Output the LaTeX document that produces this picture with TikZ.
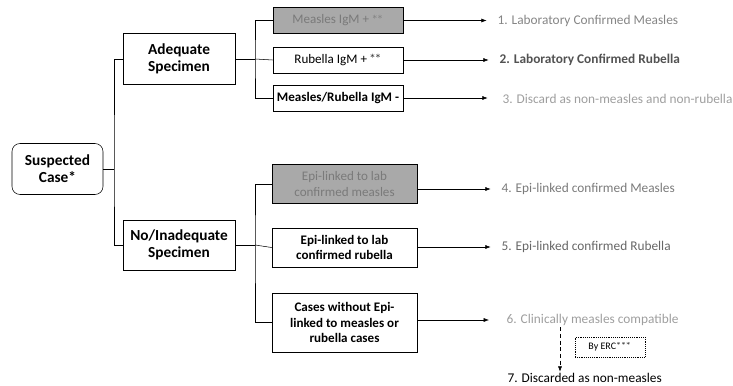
\documentclass[tikz,border=0pt]{standalone}
\usepackage{fontspec}
\setmainfont{Carlito}
\usetikzlibrary{arrows.meta}

\definecolor{shade}{HTML}{A9A9A9}
\definecolor{shadetext}{HTML}{7A7A7A}

\tikzset{
  mainbox/.style = {draw, thin, align=center, font=\fontsize{11.5}{12.5}\selectfont\bfseries,
    minimum width=112*0.75pt, minimum height=51*0.75pt, inner sep=1pt},
  subbox/.style = {draw, thin, align=center, font=\fontsize{9.8}{11.6}\selectfont,
    minimum width=130*0.75pt, minimum height=26*0.75pt, inner sep=1pt},
  greybox/.style = {fill=shade, text=shadetext},
  outcome/.style = {anchor=west, font=\fontsize{10}{12}\selectfont, inner sep=1pt},
  arr/.style = {-{Latex[length=4pt,width=3pt]}, thin, shorten >=7pt}
}

\begin{document}
\begin{tikzpicture}[x=0.75pt, y=-0.75pt]
    \useasboundingbox (0, 0) rectangle (733, 386);

    % first level
    \node [mainbox, rounded corners=6pt, minimum width=91*0.75pt] (susp) at (57.5, 169) {Suspected\\Case*};
    \node [mainbox] (adeq) at (179, 59) {Adequate\\Specimen};
    \node [mainbox, minimum height=50*0.75pt] (inad) at (179, 245) {No/Inadequate\\Specimen};

    \draw (susp.east) -- (114, 169);
    \draw (adeq.west) -| (114, 169) |- (inad.west);

    % adequate specimen
    \node [subbox, greybox] (mpos) at (338, 20.5) {Measles IgM + $^{**}$};
    \node [subbox] (rpos) at (338, 60) {Rubella IgM + $^{**}$};
    \node [subbox, font=\fontsize{9.8}{11.6}\selectfont\bfseries] (mneg) at (338, 98) {Measles/Rubella IgM -};

    \draw (adeq.east) -- (255, 59);
    \draw (mpos.west) -| (255, 59) |- (mneg.west);
    \draw (255, 59) -- (rpos.west);

    % no/inadequate specimen
    \node [subbox, greybox, minimum width=145*0.75pt, minimum height=39*0.75pt] (epim) at (344.5, 184) {Epi-linked to lab\\confirmed measles};
    \node [subbox, font=\fontsize{9.8}{11.6}\selectfont\bfseries, minimum width=145*0.75pt, minimum height=39*0.75pt] (epir) at (344.5, 247.5) {Epi-linked to lab\\confirmed rubella};
    \node [subbox, font=\fontsize{9.8}{11.6}\selectfont\bfseries, minimum width=145*0.75pt, minimum height=59*0.75pt] (noepi) at (344.5, 322.5) {Cases without Epi-\\linked to measles or\\rubella cases};

    \draw (inad.east) -- (255, 245);
    \draw (epim.west) -| (255, 245) |- (noepi.west);
    \draw (255, 245) -- (epir.west);

    % outcomes
    \node [outcome, text=black!48] (out1) at (496, 21) {1. Laboratory Confirmed Measles};
    \node [outcome, text=black!68, font=\fontsize{10}{12}\selectfont\bfseries] (out2) at (498, 60) {2. Laboratory Confirmed Rubella};
    \node [outcome, text=black!38] (out3) at (501, 99) {3. Discard as non-measles and non-rubella};
    \node [outcome, text=black!52] (out4) at (500, 189) {4. Epi-linked confirmed Measles};
    \node [outcome, text=black!60] (out5) at (500, 247) {5. Epi-linked confirmed Rubella};
    \node [outcome, text=black!38] (out6) at (505, 320) {6. Clinically measles compatible};
    \node [outcome, text=black] (out7) at (506, 378) {7. Discarded as non-measles};

    \draw [arr] (mpos.east) -- (mpos.east -| out1.west);
    \draw [arr] (rpos.east) -- (rpos.east -| out2.west);
    \draw [arr, shorten >=10pt] (mneg.east) -- (mneg.east -| out3.west);
    \draw [arr] (epim.east |- out4) -- (out4.west);
    \draw [arr] (epir.east |- out5) -- (out5.west);
    \draw [arr, shorten >=12pt] (noepi.east |- out6) -- (out6.west);

    \coordinate (ercline) at (560, 0);
    \draw [arr, densely dashed, shorten >=0pt] (out6.south -| ercline) -- (out7.north -| ercline);
    \node [draw, densely dotted, font=\fontsize{7.5}{9}\selectfont, minimum width=70*0.75pt, minimum height=20*0.75pt, inner sep=1pt] (erc) at (610, 347) {By ERC$^{***}$};
  \end{tikzpicture}
\end{document}
